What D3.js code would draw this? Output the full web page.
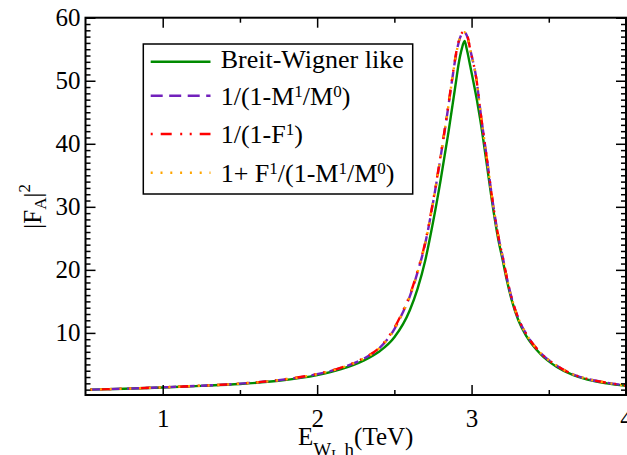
<!DOCTYPE html>
<html>
<head>
<meta charset="utf-8">
<script src="https://cdn.jsdelivr.net/npm/d3@7"></script>
<style>
  body { margin: 0; background: #fff; }
  text { font-family: "Liberation Serif", "Times New Roman", serif; fill: #000; }
</style>
</head>
<body>
<svg id="chart" width="627" height="455"></svg>
<script>
// values
const energyBW = [0.53, 0.75, 1.0, 1.25, 1.5, 1.75, 2.0, 2.15, 2.3, 2.4, 2.5, 2.6, 2.65, 2.7, 2.75, 2.8, 2.85, 2.9, 2.915, 2.937, 2.955, 2.968, 2.99, 3.034, 3.055, 3.1, 3.131, 3.174, 3.202, 3.228, 3.26, 3.303, 3.357, 3.444, 3.552, 3.659, 3.75, 3.875, 4.0];
const breitWigner = [1.0, 1.15, 1.35, 1.6, 1.9, 2.4, 3.3, 4.2, 5.6, 7.0, 9.3, 13.6, 17.0, 21.5, 27.5, 34.3, 41.8, 50.0, 52.5, 55.1, 56.3, 55.1, 52.5, 47.0, 44.0, 36.5, 31.1, 24.7, 21.5, 18.4, 15.2, 12.0, 9.4, 6.7, 4.6, 3.3, 2.6, 2.0, 1.6];

const energy = [0.53, 0.75, 1.0, 1.25, 1.5, 1.75, 2.0, 2.15, 2.3, 2.4, 2.5, 2.55, 2.6, 2.65, 2.7, 2.75, 2.8, 2.85, 2.875, 2.9, 2.925, 2.951, 2.975, 2.99, 3.034, 3.055, 3.1, 3.131, 3.174, 3.202, 3.228, 3.26, 3.303, 3.357, 3.444, 3.552, 3.659, 3.75, 3.875, 4.0];
const invM = [1.0, 1.15, 1.37, 1.62, 1.95, 2.5, 3.45, 4.4, 5.9, 7.5, 10.6, 13.0, 15.8, 19.6, 24.2, 30.6, 38.0, 46.0, 50.3, 54.2, 56.8, 57.7, 56.8, 55.1, 49.8, 45.6, 37.5, 31.8, 25.2, 22.0, 18.8, 15.5, 12.3, 9.7, 6.9, 4.8, 3.4, 2.7, 2.1, 1.65];
const invF = [1.0, 1.15, 1.37, 1.62, 1.96, 2.52, 3.5, 4.45, 6.0, 7.6, 10.8, 13.2, 16.0, 19.8, 24.4, 30.8, 38.2, 46.2, 50.5, 54.4, 57.0, 57.8, 56.9, 55.1, 49.8, 45.6, 37.5, 31.8, 25.2, 22.0, 18.8, 15.5, 12.3, 9.7, 6.9, 4.8, 3.4, 2.7, 2.1, 1.65];
const mixed = [1.0, 1.15, 1.37, 1.62, 1.95, 2.5, 3.45, 4.4, 5.9, 7.5, 10.6, 13.0, 15.8, 19.6, 24.2, 30.6, 38.0, 46.0, 50.3, 54.2, 56.8, 57.7, 56.8, 55.1, 49.8, 45.6, 37.5, 31.8, 25.2, 22.0, 18.8, 15.5, 12.3, 9.7, 6.9, 4.8, 3.4, 2.7, 2.1, 1.65];

const xMajor = [1, 2, 3, 4];
const xMinor = [1.5, 2.5, 3.5];
const yMajor = [10, 20, 30, 40, 50, 60];
const yMinor = d3.range(1, 60).filter(v => v % 10 !== 0);

const legendLabels = [
    [["Breit-Wigner like"]],
    [["1/(1-M"], ["1", "sup"], ["/M"], ["0", "sup"], [")"]],
    [["1/(1-F"], ["1", "sup"], [")"]],
    [["1+ F"], ["1", "sup"], ["/(1-M"], ["1", "sup"], ["/M"], ["0", "sup"], [")"]]
];

const styles = [
    { color: "#008b00", dash: null, offset: 0 },
    { color: "#7221bc", dash: "12,6.5", offset: 0 },
    { color: "#ff0000", dash: "11,8.5,2,7.5,2,8", offset: 29 },
    { color: "#ffa500", dash: "2,7.8", offset: 0 }
];

const series = [
    energyBW.map((e, i) => ({ e: e, v: breitWigner[i] })),
    energy.map((e, i) => ({ e: e, v: invM[i] })),
    energy.map((e, i) => ({ e: e, v: invF[i] })),
    energy.map((e, i) => ({ e: e, v: mixed[i] }))
];

const
    plotLeft = 85.5, plotRight = 626,
    plotTop = 17.7, plotBottom = 395;

const svg = d3.select("#chart");

const x = d3.scaleLinear().domain([0.5, 4]).range([plotLeft, plotRight]);
const y = d3.scaleLinear().domain([0.15, 60]).range([plotBottom, plotTop]);

svg.append("clipPath").attr("id", "plot-clip")
    .append("rect")
    .attr("x", plotLeft).attr("y", plotTop)
    .attr("width", plotRight - plotLeft).attr("height", plotBottom - plotTop);

// curves
const line = d3.line()
    .x(d => x(d.e))
    .y(d => y(d.v))
    .curve(d3.curveMonotoneX);

series.forEach((s, i) => {
    svg.append("path")
        .datum(s)
        .attr("clip-path", "url(#plot-clip)")
        .attr("fill", "none")
        .attr("stroke", styles[i].color)
        .attr("stroke-width", 2.4)
        .attr("stroke-dasharray", styles[i].dash)
        .attr("stroke-dashoffset", styles[i].offset)
        .attr("d", line);
});

// ticks on all four sides, pointing inwards
function tidy(g) {
    g.select(".domain").remove();
    g.selectAll(".tick line").attr("stroke", "#000").attr("stroke-width", 1.5);
    g.selectAll(".tick text").attr("font-size", 25).attr("font-family", "Liberation Serif, Times New Roman, serif");
}

svg.append("g").attr("transform", `translate(0,${plotBottom})`)
    .call(d3.axisBottom(x).tickValues(xMajor).tickSize(-10).tickPadding(14).tickFormat(d3.format("d")))
    .call(tidy);
svg.append("g").attr("transform", `translate(0,${plotBottom})`)
    .call(d3.axisBottom(x).tickValues(xMinor).tickSize(-5).tickFormat(""))
    .call(tidy);
svg.append("g").attr("transform", `translate(0,${plotTop})`)
    .call(d3.axisTop(x).tickValues(xMajor).tickSize(-10).tickFormat(""))
    .call(tidy);
svg.append("g").attr("transform", `translate(0,${plotTop})`)
    .call(d3.axisTop(x).tickValues(xMinor).tickSize(-5).tickFormat(""))
    .call(tidy);

svg.append("g").attr("transform", `translate(${plotLeft},0)`)
    .call(d3.axisLeft(y).tickValues(yMajor).tickSize(-10).tickPadding(5).tickFormat(d3.format("d")))
    .call(tidy);
svg.append("g").attr("transform", `translate(${plotLeft},0)`)
    .call(d3.axisLeft(y).tickValues(yMinor).tickSize(-5).tickFormat(""))
    .call(tidy);
svg.append("g").attr("transform", `translate(${plotRight},0)`)
    .call(d3.axisRight(y).tickValues(yMajor).tickSize(-10).tickFormat(""))
    .call(tidy);
svg.append("g").attr("transform", `translate(${plotRight},0)`)
    .call(d3.axisRight(y).tickValues(yMinor).tickSize(-5).tickFormat(""))
    .call(tidy);

svg.append("rect")
    .attr("x", plotLeft).attr("y", plotTop)
    .attr("width", plotRight - plotLeft).attr("height", plotBottom - plotTop)
    .attr("fill", "none")
    .attr("stroke", "#000")
    .attr("stroke-width", 2);

// axis titles
const xt = svg.append("text")
    .attr("x", (plotLeft + plotRight) / 2)
    .attr("y", 445)
    .attr("text-anchor", "middle")
    .attr("font-size", 25);
xt.append("tspan").text("E");
xt.append("tspan").attr("font-size", 19).attr("dy", 10.5).text("W");
xt.append("tspan").attr("font-size", 14).attr("dy", 4).text("L");
xt.append("tspan").attr("font-size", 19).attr("dy", -4).text(" h");
xt.append("tspan").attr("dy", -10.5).text("(TeV)");

const yt = svg.append("text")
    .attr("transform", `translate(41,${(plotTop + plotBottom) / 2}) rotate(-90)`)
    .attr("text-anchor", "middle")
    .attr("font-size", 25);
yt.append("tspan").text("|F");
yt.append("tspan").attr("font-size", 17).attr("dy", 5).text("A");
yt.append("tspan").attr("dy", -5).text("|");
yt.append("tspan").attr("font-size", 17).attr("dy", -11).text("2");

// legend
const lineRows = [61.7, 95.7, 134, 172.7];
const textRows = [67.5, 105, 143.3, 181.7];

const legend = svg.append("g");
legend.append("rect")
    .attr("x", 143.3).attr("y", 44)
    .attr("width", 269.4).attr("height", 150)
    .attr("fill", "#fff")
    .attr("stroke", "#000")
    .attr("stroke-width", 1.5);

legendLabels.forEach((parts, i) => {
    legend.append("line")
        .attr("x1", 150.7).attr("x2", 210.5)
        .attr("y1", lineRows[i]).attr("y2", lineRows[i])
        .attr("stroke", styles[i].color)
        .attr("stroke-width", 2.4)
        .attr("stroke-dasharray", styles[i].dash)
        .attr("stroke-dashoffset", styles[i].offset);

    const t = legend.append("text")
        .attr("x", 220.7)
        .attr("y", textRows[i])
        .attr("font-size", 26);
    let raised = false;
    parts.forEach(p => {
        const sp = t.append("tspan").text(p[0]);
        if (p[1] === "sup") {
            sp.attr("font-size", 17).attr("dy", raised ? 0 : -8);
            raised = true;
        } else if (raised) {
            sp.attr("dy", 8);
            raised = false;
        }
    });
});
</script>
</body>
</html>
